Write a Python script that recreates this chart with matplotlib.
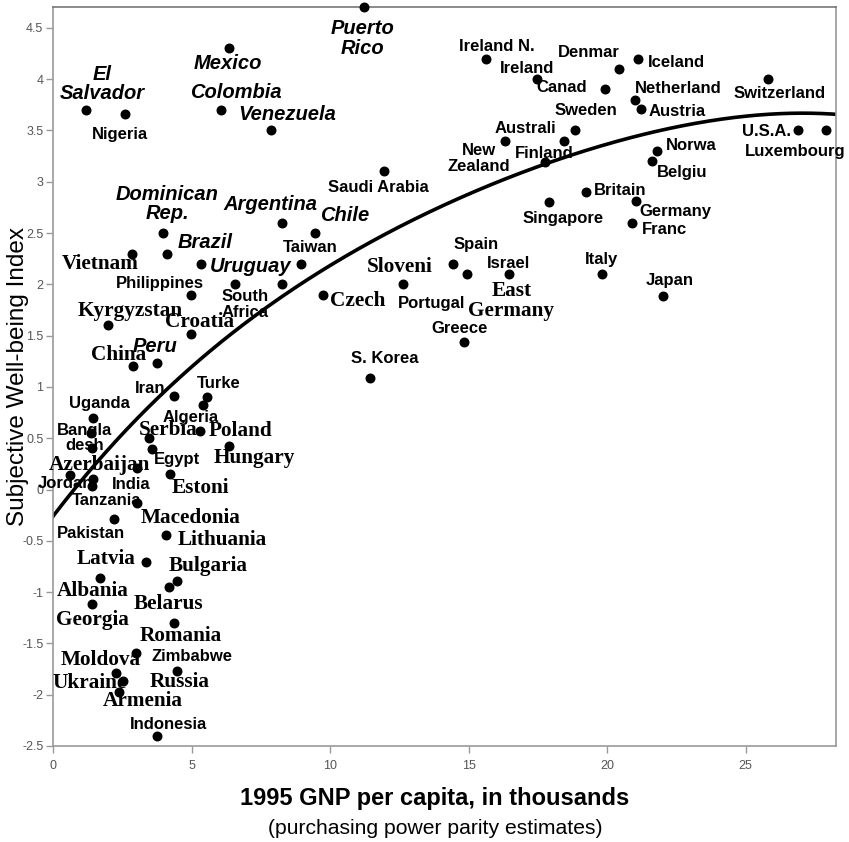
import numpy as np
import matplotlib
matplotlib.use("Agg")
import matplotlib.pyplot as plt
from matplotlib.ticker import FuncFormatter

# GNP per capita (thousands, PPP) and subjective well-being
country = [
    "El Salvador", "Nigeria", "Mexico", "Colombia", "Venezuela", "Puerto Rico",
    "Dominican Rep.", "Brazil", "Argentina", "Chile", "Taiwan", "Uruguay",
    "South Africa", "", "Vietnam", "Philippines", "Kyrgyzstan", "Croatia",
    "China", "Peru", "Iran", "Turkey", "", "Uganda", "Bangladesh", "",
    "Serbia", "Algeria", "Hungary", "Egypt", "Azerbaijan", "Jordan", "India", "",
    "Estonia", "Tanzania", "Pakistan", "Lithuania", "Latvia", "Albania",
    "Bulgaria", "Belarus", "Georgia", "Romania", "Moldova", "Russia", "Ukraine",
    "Armenia", "", "Indonesia",
    "Saudi Arabia", "Ireland N.", "Ireland", "Canada", "Denmark", "Iceland",
    "Netherlands", "Austria", "Switzerland", "Sweden", "Australia", "Finland",
    "New Zealand", "U.S.A.", "Luxembourg", "Norway", "Belgium", "Britain",
    "Germany", "France", "Singapore", "Italy", "Japan", "Spain", "East Germany",
    "Israel", "Portugal", "Czech", "Greece", "S. Korea",
]
gnp = [
    1.19, 2.61, 6.37, 6.07, 7.86, 11.24,
    3.97, 4.13, 8.26, 9.46, 8.95, 5.35,
    6.58, 8.26, 2.85, 4.98, 1.98, 4.98,
    2.89, 3.75, 4.38, 5.56, 5.40, 1.46, 1.37, 1.41,
    3.47, 5.29, 6.37, 3.59, 3.03, 0.62, 1.46, 1.41,
    4.21, 3.03, 2.21, 4.08, 3.35, 1.71,
    4.49, 4.20, 1.41, 4.38, 3.01, 4.47, 2.28,
    2.53, 2.37, 3.77,
    11.95, 15.63, 17.46, 19.92, 20.43, 21.10,
    21.02, 21.22, 25.82, 18.84, 16.32, 18.45,
    17.76, 26.90, 27.89, 21.81, 21.61, 19.23,
    21.03, 20.91, 17.91, 19.81, 22.03, 14.43, 14.96,
    16.44, 12.65, 9.74, 14.84, 11.45,
]
swb = [
    3.70, 3.66, 4.30, 3.70, 3.50, 4.70,
    2.50, 2.30, 2.60, 2.50, 2.20, 2.20,
    2.00, 2.00, 2.30, 1.90, 1.60, 1.52,
    1.20, 1.23, 0.91, 0.90, 0.82, 0.70, 0.55, 0.40,
    0.50, 0.57, 0.42, 0.39, 0.21, 0.14, 0.10, 0.03,
    0.15, -0.13, -0.29, -0.44, -0.71, -0.86,
    -0.89, -0.95, -1.12, -1.30, -1.59, -1.77, -1.79,
    -1.87, -1.97, -2.40,
    3.10, 4.20, 4.00, 3.90, 4.10, 4.20,
    3.80, 3.71, 4.00, 3.50, 3.40, 3.40,
    3.19, 3.50, 3.50, 3.30, 3.20, 2.90,
    2.81, 2.60, 2.80, 2.10, 1.89, 2.20, 2.10,
    2.10, 2.00, 1.90, 1.44, 1.09,
]

# points
trend_x = [0, 0.98, 1.95, 4.35, 8.2, 8.92, 10.97, 12.41, 18.3, 19.02, 21.97, 24.31, 26.72, 28.33]
trend_y = [-0.27, 0.11, 0.35, 1.02, 1.88, 2.01, 2.35, 2.53, 3.24, 3.26, 3.50, 3.63, 3.67, 3.65]

yticks = [-2.5, -2, -1.5, -1, -0.5, 0, 0.5, 1, 1.5, 2, 2.5, 3, 3.5, 4, 4.5]
xticks = [0, 5, 10, 15, 20, 25]

# label text, dot it belongs to, offset in pixels (right, down), font kind
labels = [
    ("El\nSalvador", "El Salvador", 16, -26, "latin"),
    ("Nigeria", "Nigeria", -5, 20, "sans"),
    ("Mexico", "Mexico", -2, 15, "latin"),
    ("Colombia", "Colombia", 15, -17, "latin"),
    ("Venezuela", "Venezuela", 16, -16, "latin"),
    ("Puerto\nRico", "Puerto Rico", -2, 31, "latin"),
    ("Dominican\nRep.", "Dominican Rep.", 4, -29, "latin"),
    ("Brazil", "Brazil", 38, -11, "latin"),
    ("Argentina", "Argentina", -11, -18, "latin"),
    ("Chile", "Chile", 30, -18, "latin"),
    ("Taiwan", "Taiwan", 9, -16, "sans"),
    ("Uruguay", "Uruguay", 49, 3, "latin"),
    ("South\nAfrica", "South Africa", 10, 20, "sans"),
    ("Vietnam", "Vietnam", -32, 10, "post"),
    ("Philippines", "Philippines", -31, -11, "sans"),
    ("Kyrgyzstan", "Kyrgyzstan", 22, -14, "post"),
    ("Croatia", "Croatia", 9, -12, "post"),
    ("China", "China", -14, -11, "post"),
    ("Peru", "Peru", -2, -17, "latin"),
    ("Iran", "Iran", -24, -8, "sans"),
    ("Turke", "Turkey", 12, -14, "sans"),
    ("Uganda", "Uganda", 6, -14, "sans"),
    ("Bangla\ndesh", "Bangladesh", -6, 5, "sans"),
    ("Serbia", "Serbia", 19, -8, "post"),
    ("Algeria", "Algeria", -9, -14, "sans"),
    ("Poland", "Hungary", 11, -15, "post"),
    ("Hungary", "Hungary", 25, 12, "post"),
    ("Egypt", "Egypt", 25, 10, "sans"),
    ("Azerbaijan", "Azerbaijan", -37, -3, "post"),
    ("Jordan", "Jordan", -5, 8, "sans"),
    ("India", "India", 38, 5, "sans"),
    ("Estoni", "Estonia", 31, 14, "post"),
    ("Tanzania", "Tanzania", -30, -2, "sans"),
    ("Pakistan", "Pakistan", -23, 14, "sans"),
    ("Macedonia", "Lithuania", 25, -17, "post"),
    ("Lithuania", "Lithuania", 56, 5, "post"),
    ("Latvia", "Latvia", -40, -3, "post"),
    ("Albania", "Albania", -8, 13, "post"),
    ("Bulgaria", "Bulgaria", 31, -15, "post"),
    ("Belarus", "Belarus", -1, 17, "post"),
    ("Georgia", "Georgia", 0, 16, "post"),
    ("Romania", "Romania", 6, 13, "post"),
    ("Moldova", "Moldova", -36, 7, "post"),
    ("Zimbabwe", "Russia", 15, -15, "sans"),
    ("Russia", "Russia", 3, 11, "post"),
    ("Ukraine", "Ukraine", -27, 10, "post"),
    ("Armenia", "Armenia", 20, 20, "post"),
    ("Indonesia", "Indonesia", 11, -11, "sans"),
    ("Saudi Arabia", "Saudi Arabia", -6, 16, "sans"),
    ("Ireland N.", "Ireland N.", 11, -12, "sans"),
    ("Ireland", "Ireland", -10, -11, "sans"),
    ("Canad", "Canada", -43, -2, "sans"),
    ("Denmar", "Denmark", -30, -16, "sans"),
    ("Iceland", "Iceland", 39, 4, "sans"),
    ("Netherland", "Netherlands", 43, -11, "sans"),
    ("Austria", "Austria", 36, 3, "sans"),
    ("Switzerland", "Switzerland", 11, 14, "sans"),
    ("Sweden", "Sweden", 11, -20, "sans"),
    ("Australi", "Australia", 20, -12, "sans"),
    ("Finland", "Finland", -20, 13, "sans"),
    ("New\nZealand", "New Zealand", -66, -4, "sans"),
    ("U.S.A.", "U.S.A.", -32, 1, "sans"),
    ("Luxembourg", "Luxembourg", -31, 21, "sans"),
    ("Norwa", "Norway", 34, -5, "sans"),
    ("Belgiu", "Belgium", 30, 11, "sans"),
    ("Britain", "Britain", 34, -1, "sans"),
    ("Germany", "Germany", 40, 10, "sans"),
    ("Franc", "France", 32, 7, "sans"),
    ("Singapore", "Singapore", 14, 16, "sans"),
    ("Italy", "Italy", 0, -15, "sans"),
    ("Japan", "Japan", 6, -15, "sans"),
    ("Spain", "Spain", 23, -19, "sans"),
    ("East\nGermany", "East Germany", 44, 27, "post"),
    ("Israel", "Israel", 0, -11, "sans"),
    ("Sloveni", "Portugal", -4, -17, "post"),
    ("Portugal", "Portugal", 28, 19, "sans"),
    ("Czech", "Czech", 35, 6, "post"),
    ("Greece", "Greece", -5, -13, "sans"),
    ("S. Korea", "S. Korea", 15, -19, "sans"),
]

fonts = {
    "sans": dict(family="Liberation Sans", weight="bold", size=12),
    "latin": dict(family="Liberation Sans", weight="bold", style="italic", size=14.5),
    "post": dict(family="Liberation Serif", weight="bold", size=15.3),
}

fig = plt.figure(figsize=(8.49, 8.42), dpi=100)
ax = fig.add_axes([53 / 849, 96 / 842, 783 / 849, 739 / 842])

# smooth trend curve through the points
coef = np.polyfit(trend_x, trend_y, 4)
xs = np.linspace(0, 28.3, 300)
ax.plot(xs, np.polyval(coef, xs), color="black", lw=2.6, zorder=2)

ax.scatter(gnp, swb, s=38, color="black", zorder=3, clip_on=False)

for text, who, dx, dy, kind in labels:
    i = country.index(who)
    ax.annotate(text, (gnp[i], swb[i]), xytext=(dx, -dy), textcoords="offset pixels",
                ha="center", va="center", linespacing=1.05, zorder=4,
                annotation_clip=False, **fonts[kind])

ax.set_xlim(0, 28.26)
ax.set_ylim(-2.5, 4.703)
ax.set_xticks(xticks)
ax.set_yticks(yticks)
ax.yaxis.set_major_formatter(FuncFormatter(lambda v, p: "%g" % v))
tick_font = ["Liberation Sans Narrow", "Liberation Sans"]
for lab in ax.get_xticklabels() + ax.get_yticklabels():
    lab.set_family(tick_font)
ax.tick_params(axis="both", direction="out", length=5, width=1, color="#999999",
               labelsize=9, labelcolor="#555555", pad=2)
ax.tick_params(axis="x", pad=5)
for side in ["left", "bottom", "right", "top"]:
    ax.spines[side].set_color("#9a9a9a")
    ax.spines[side].set_linewidth(1.2)
ax.spines["top"].set_color("#777777")

ax.set_ylabel("Subjective Well-being Index", family="Liberation Sans", fontsize=17.5)
ax.yaxis.set_label_coords(-0.031, 0.5)

fig.text(435 / 849, 1 - 798 / 842, "1995 GNP per capita, in thousands",
         ha="center", va="center", family="Liberation Sans", weight="bold", fontsize=17)
fig.text(435 / 849, 1 - 828 / 842, "(purchasing power parity estimates)",
         ha="center", va="center", family="Liberation Sans", fontsize=15.2)

fig.savefig("out.png", dpi=100, facecolor="white")
